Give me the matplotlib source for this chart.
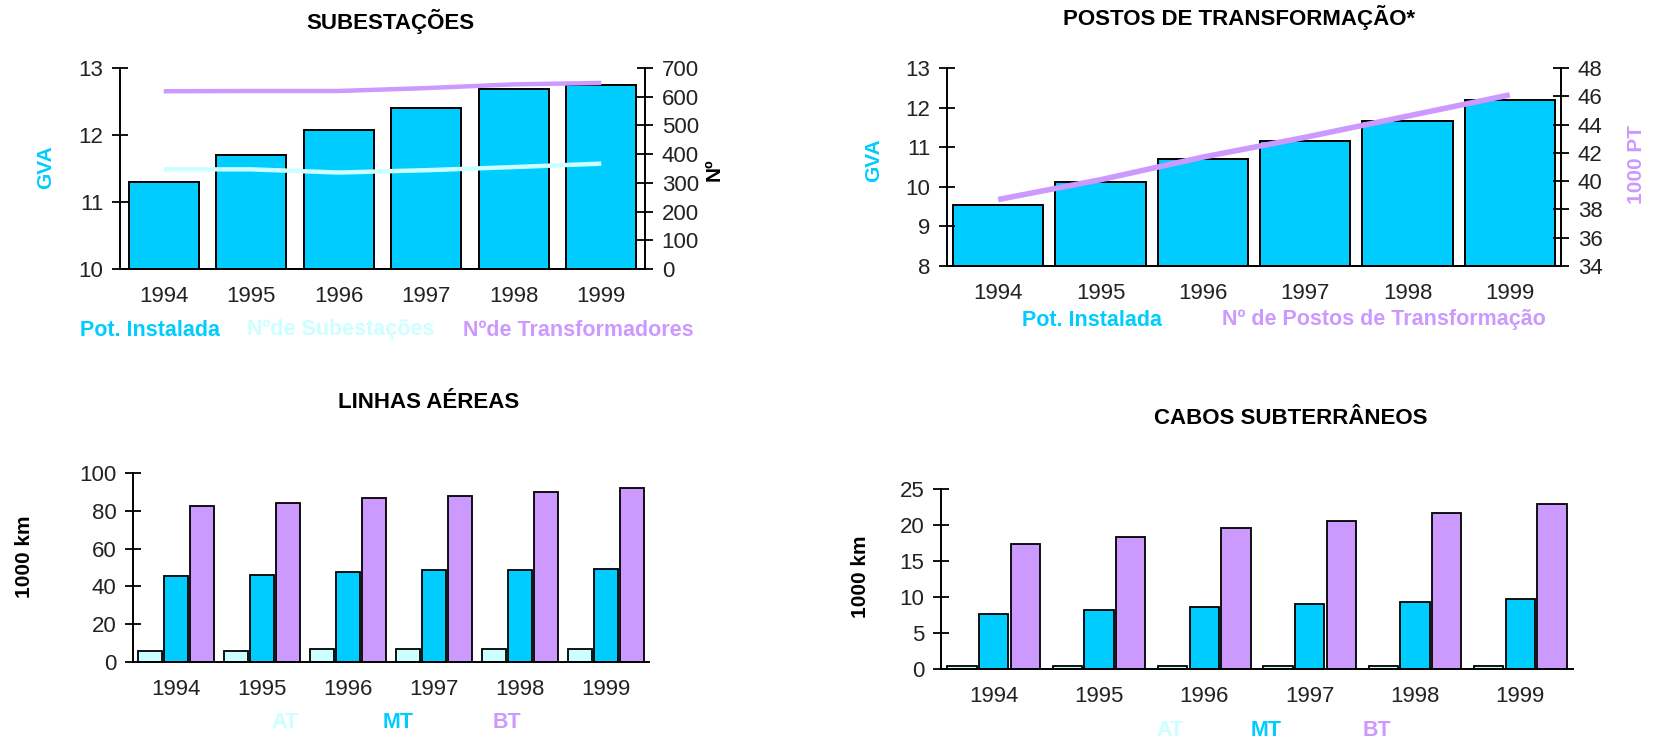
import numpy as np
import matplotlib.pyplot as plt

plt.rcParams['font.family'] = ['Liberation Sans', 'DejaVu Sans']

anos = ['1994', '1995', '1996', '1997', '1998', '1999']

# subestações
sub_potencia = [11.30, 11.70, 12.07, 12.41, 12.69, 12.75]   # GVA
sub_num = [347, 347, 336, 344, 355, 367]
sub_transf = [619, 620, 620, 630, 643, 648]

# postos de transformação
pt_potencia = [9.55, 10.13, 10.70, 11.15, 11.66, 12.19]     # GVA
pt_num = [38.7, 40.1, 41.7, 43.1, 44.6, 46.1]               # 1000 PT

# linhas aéreas (1000 km)
la_at = [6.0, 6.0, 6.9, 6.9, 6.9, 6.9]
la_mt = [45.5, 46.2, 47.8, 48.5, 48.5, 49.2]
la_bt = [82.7, 84.3, 86.6, 88.0, 90.1, 91.9]

# cabos subterrâneos (1000 km)
cs_at = [0.4, 0.4, 0.4, 0.4, 0.4, 0.4]
cs_mt = [7.6, 8.15, 8.56, 8.98, 9.35, 9.7]
cs_bt = [17.36, 18.38, 19.54, 20.5, 21.67, 22.87]

CIANO = '#00ccff'
CIANO_CLARO = '#ccffff'
LILAS = '#cc99ff'

TICK = 16
TITULO = 16
LEGENDA = 15.5
ROTULO = 15

W, H = 1655, 738
fig = plt.figure(figsize=(W / 100, H / 100), dpi=100)
fig.patch.set_facecolor('white')


def caixa(x0, y0, x1, y1):
    # pixel box -> figure fractions
    return [x0 / W, 1 - y1 / H, (x1 - x0) / W, (y1 - y0) / H]


def texto(px, py, s, **kw):
    fig.text(px / W, 1 - py / H, s, ha='center', va='center', **kw)


def estilo(ax, direita=False):
    ax.spines['top'].set_visible(False)
    ax.spines['right'].set_visible(direita)
    for s in ax.spines.values():
        s.set_linewidth(1.4)
    ax.tick_params(axis='y', direction='inout', length=12, width=1.3,
                   labelsize=TICK, pad=6, labelcolor='#222222')
    ax.tick_params(axis='x', length=0, labelsize=TICK, pad=12, labelcolor='#222222')
    ax.set_xlim(-0.5, 5.5)


x = np.arange(len(anos))

# --- SUBESTAÇÕES ---
ax1 = fig.add_axes(caixa(120, 68, 645, 269))
ax1.bar(x, sub_potencia, width=0.8, color=CIANO, edgecolor='black', linewidth=1.4)
ax1.set_ylim(10, 13)
ax1.set_yticks([10, 11, 12, 13])
ax1.set_xticks(x)
ax1.set_xticklabels(anos)
estilo(ax1)
ax1b = ax1.twinx()
ax1b.plot(x, sub_num, color=CIANO_CLARO, lw=3.2, solid_capstyle='butt')
ax1b.plot(x, sub_transf, color=LILAS, lw=3.2, solid_capstyle='butt')
ax1b.set_ylim(0, 700)
ax1b.set_yticks(range(0, 701, 100))
estilo(ax1b, direita=True)
ax1b.spines['left'].set_visible(False)

texto(390, 21, 'SUBESTAÇÕES', fontsize=TITULO, fontweight='bold')
texto(46, 167, 'GVA', fontsize=ROTULO, fontweight='bold', color=CIANO, rotation=90)
texto(714, 170, 'Nº', fontsize=ROTULO, fontweight='bold', color='black', rotation=90)
texto(150, 330, 'Pot. Instalada', fontsize=LEGENDA, fontweight='bold', color=CIANO)
texto(341, 330, 'Nºde Subestações', fontsize=LEGENDA, fontweight='bold', color=CIANO_CLARO)
texto(578, 330, 'Nºde Transformadores', fontsize=LEGENDA, fontweight='bold', color=LILAS)

# --- POSTOS DE TRANSFORMAÇÃO ---
ax2 = fig.add_axes(caixa(947, 68, 1561, 266))
ax2.bar(x, pt_potencia, width=0.88, color=CIANO, edgecolor='black', linewidth=1.4)
ax2.set_ylim(8, 13)
ax2.set_yticks(range(8, 14))
ax2.set_xticks(x)
ax2.set_xticklabels(anos)
estilo(ax2)
ax2b = ax2.twinx()
ax2b.plot(x, pt_num, color=LILAS, lw=4, solid_capstyle='butt')
ax2b.set_ylim(34, 48)
ax2b.set_yticks(range(34, 49, 2))
estilo(ax2b, direita=True)
ax2b.spines['left'].set_visible(False)

texto(1239, 18, 'POSTOS DE TRANSFORMAÇÃO*', fontsize=TITULO, fontweight='bold')
texto(874, 160, 'GVA', fontsize=ROTULO, fontweight='bold', color=CIANO, rotation=90)
texto(1637, 165, '1000 PT', fontsize=ROTULO, fontweight='bold', color=LILAS, rotation=90)
texto(1092, 320, 'Pot. Instalada', fontsize=LEGENDA, fontweight='bold', color=CIANO)
texto(1384, 320, 'Nº de Postos de Transformação', fontsize=LEGENDA, fontweight='bold', color=LILAS)

# --- LINHAS AÉREAS ---
ax3 = fig.add_axes(caixa(133, 473, 649, 662))
largura = 0.28
ax3.bar(x - 0.3, la_at, width=largura, color=CIANO_CLARO, edgecolor='black', linewidth=1.3)
ax3.bar(x, la_mt, width=largura, color=CIANO, edgecolor='black', linewidth=1.3)
ax3.bar(x + 0.3, la_bt, width=largura, color=LILAS, edgecolor='black', linewidth=1.3)
ax3.set_ylim(0, 100)
ax3.set_yticks(range(0, 101, 20))
ax3.set_xticks(x)
ax3.set_xticklabels(anos)
estilo(ax3)

texto(429, 402, 'LINHAS AÉREAS', fontsize=TITULO, fontweight='bold')
texto(25, 557, '1000 km', fontsize=ROTULO, fontweight='bold', rotation=90)
texto(285, 722, 'AT', fontsize=LEGENDA, fontweight='bold', color=CIANO_CLARO)
texto(398, 722, 'MT', fontsize=LEGENDA, fontweight='bold', color=CIANO)
texto(507, 722, 'BT', fontsize=LEGENDA, fontweight='bold', color=LILAS)

# --- CABOS SUBTERRÂNEOS ---
ax4 = fig.add_axes(caixa(941, 489, 1573, 669))
ax4.bar(x - 0.3, cs_at, width=largura, color=CIANO_CLARO, edgecolor='black', linewidth=1.3)
ax4.bar(x, cs_mt, width=largura, color=CIANO, edgecolor='black', linewidth=1.3)
ax4.bar(x + 0.3, cs_bt, width=largura, color=LILAS, edgecolor='black', linewidth=1.3)
ax4.set_ylim(0, 25)
ax4.set_yticks(range(0, 26, 5))
ax4.set_xticks(x)
ax4.set_xticklabels(anos)
estilo(ax4)

texto(1291, 419, 'CABOS SUBTERRÂNEOS', fontsize=TITULO, fontweight='bold')
texto(861, 577, '1000 km', fontsize=ROTULO, fontweight='bold', rotation=90)
texto(1170, 730, 'AT', fontsize=LEGENDA, fontweight='bold', color=CIANO_CLARO)
texto(1266, 730, 'MT', fontsize=LEGENDA, fontweight='bold', color=CIANO)
texto(1377, 730, 'BT', fontsize=LEGENDA, fontweight='bold', color=LILAS)

fig.savefig('out.png', dpi=100, facecolor='white')
